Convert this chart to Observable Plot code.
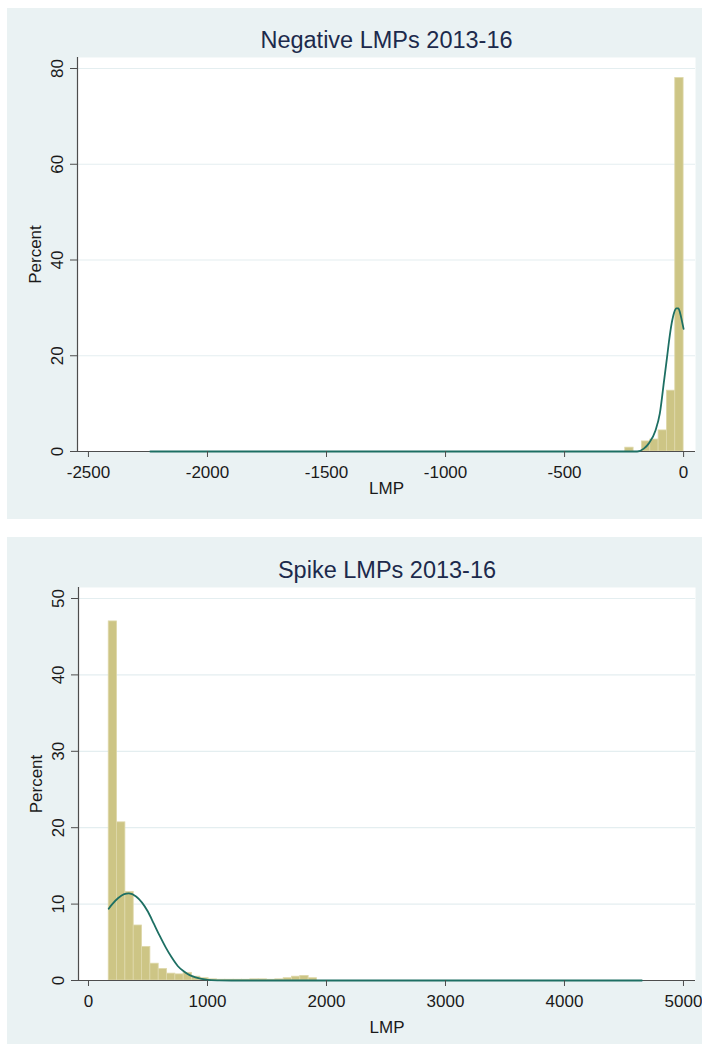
<!DOCTYPE html>
<html><head><meta charset="utf-8">
<script src="https://cdn.jsdelivr.net/npm/d3@7"></script>
<script src="https://cdn.jsdelivr.net/npm/@observablehq/plot@0.6"></script>
<style>
body{margin:0;background:#fff;width:702px;height:1044px;position:relative;overflow:hidden;font-family:"Liberation Sans",Arial,sans-serif;}
.panel{position:absolute;left:7px;width:695px;background:#eaf2f3;}
#p1{top:8px;height:511px;}
#p2{top:537px;height:507px;}
.panel svg{display:block;}
</style></head><body>
<div id="p1" class="panel"></div><div id="p2" class="panel"></div>
<script>
// ---- Panel 1: Negative LMPs ----
const negTitle = "Negative LMPs 2013-16";
const negBinLo = [-245, -210, -175, -140, -105, -70, -35];
const negBinWidth = 35;
const negPercent = [0.8, 0, 2.1, 2.5, 4.4, 12.7, 78.0];
const negKdeX = [-2240, -1000, -300, -195, -167, -146, -118, -100, -82, -70, -60, -50, -40, -30, -22, -15, -8, 0];
const negKdeY = [0, 0, 0, 0, 0.6, 1.7, 4.4, 7.9, 14.8, 19.5, 23.5, 26.8, 29.0, 29.9, 29.9, 29.0, 27.5, 25.6];
const negXTicks = [-2500, -2000, -1500, -1000, -500, 0];
const negYTicks = [0, 20, 40, 60, 80];

// ---- Panel 2: Spike LMPs ----
const spikeTitle = "Spike LMPs 2013-16";
const spikeBinLo = [170, 240, 310, 380, 450, 520, 590, 660, 730, 800, 870, 940, 1010, 1080, 1150, 1220, 1290, 1360, 1430, 1500, 1570, 1640, 1710, 1780, 1850];
const spikeBinWidth = 70;
const spikePercent = [47.0, 20.7, 11.6, 7.2, 4.4, 2.2, 1.5, 0.9, 0.8, 1.0, 0.5, 0.3, 0.15, 0.1, 0.1, 0.1, 0.1, 0.15, 0.15, 0.1, 0.15, 0.3, 0.5, 0.6, 0.3];
const spikeKdeX = [170, 200, 250, 300, 340, 400, 450, 500, 550, 600, 650, 700, 750, 800, 850, 900, 950, 1000, 1100, 1200, 4650];
const spikeKdeY = [9.4, 10.0, 10.8, 11.3, 11.4, 11.0, 10.2, 9.0, 7.4, 5.8, 4.3, 3.0, 1.9, 1.2, 0.7, 0.4, 0.2, 0.08, 0.02, 0, 0];
const spikeXTicks = [0, 1000, 2000, 3000, 4000, 5000];
const spikeYTicks = [0, 10, 20, 30, 40, 50];

const FONT = '"Liberation Sans", Arial, sans-serif';
const BAR_FILL = "#cdc585";
const BAR_STROKE = "#ded8aa";
const KDE_COLOR = "#1d6f63";
const AXIS_COLOR = "#4d4d4d";
const GRID_COLOR = "#e4eef0";

function panel(o) {
  const bars = o.binLo.map((lo, i) => ({x1: lo, x2: lo + o.binWidth, y: o.percent[i]}));
  const kde = o.kdeX.map((x, i) => ({x, y: o.kdeY[i]}));
  return Plot.plot({
    width: 695, height: o.height,
    marginLeft: o.ml, marginRight: 7, marginTop: o.mt, marginBottom: o.mb,
    style: {background: "transparent", fontFamily: FONT, fontSize: "17px", color: "#1a1a1a", overflow: "visible"},
    x: {domain: o.xDomain},
    y: {domain: o.yDomain},
    marks: [
      Plot.frame({fill: "white", stroke: null}),
      Plot.gridY(o.yTicks.filter(t => t > 0), {stroke: GRID_COLOR, strokeOpacity: 1, strokeWidth: 1.2}),
      Plot.rectY(bars, {x1: "x1", x2: "x2", y: "y", fill: BAR_FILL, stroke: BAR_STROKE, strokeWidth: 0.8}),
      Plot.ruleY([0], {stroke: AXIS_COLOR, strokeWidth: 1.2}),
      Plot.ruleX([o.xDomain[0]], {stroke: AXIS_COLOR, strokeWidth: 1.2}),
      Plot.line(kde, {x: "x", y: "y", stroke: KDE_COLOR, strokeWidth: 1.8, curve: "monotone-x"}),
      Plot.axisX(o.xTicks, {tickSize: 6, tickPadding: 8, stroke: AXIS_COLOR, fontSize: 17, label: null, tickFormat: d => String(d).replace("−", "-")}),
      Plot.axisY(o.yTicks, {tickSize: 7, tickPadding: 8, tickRotate: -90, stroke: AXIS_COLOR, fontSize: 17, label: null}),
      Plot.text([o.title], {text: d => d, frameAnchor: "top", lineAnchor: "middle", dy: -17, fontSize: 23.5, fill: "#1c2a4c"}),
      Plot.text(["Percent"], {text: d => d, frameAnchor: "left", textAnchor: "middle", lineAnchor: "middle", rotate: -90, dx: -42, fontSize: 17}),
      Plot.text(["LMP"], {text: d => d, frameAnchor: "bottom", lineAnchor: "middle", dy: o.lmpDy, fontSize: 17})
    ]
  });
}

document.getElementById("p1").append(panel({
  height: 511, ml: 70, mt: 49, mb: 68,
  xDomain: [-2546, 50], yDomain: [0, 82.3],
  binLo: negBinLo, binWidth: negBinWidth, percent: negPercent,
  kdeX: negKdeX, kdeY: negKdeY, xTicks: negXTicks, yTicks: negYTicks,
  title: negTitle, lmpDy: 37
}));
document.getElementById("p2").append(panel({
  height: 507, ml: 71, mt: 50, mb: 64,
  xDomain: [-84, 5101], yDomain: [0, 51.44],
  binLo: spikeBinLo, binWidth: spikeBinWidth, percent: spikePercent,
  kdeX: spikeKdeX, kdeY: spikeKdeY, xTicks: spikeXTicks, yTicks: spikeYTicks,
  title: spikeTitle, lmpDy: 47
}));
</script>
</body></html>
